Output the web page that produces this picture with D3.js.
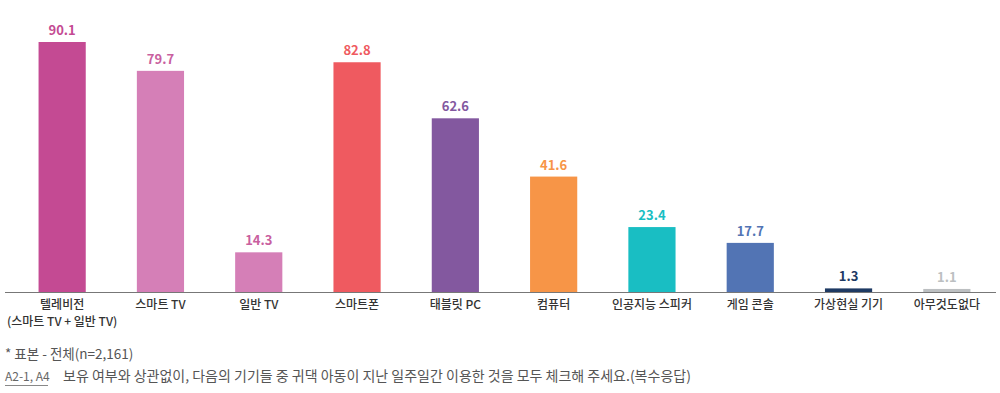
<!DOCTYPE html>
<html>
<head>
<meta charset="utf-8">
<script src="https://cdn.jsdelivr.net/npm/d3@7"></script>
<style>
  body { margin: 0; background: #fff; }
  text { font-family: "Noto Sans CJK KR", "Noto Sans", sans-serif; }
</style>
</head>
<body>
<div id="chart"></div>
<script>
// chart data
let categories = ["텔레비전\n(스마트 TV + 일반 TV)", "스마트 TV", "일반 TV", "스마트폰", "태블릿 PC",
  "컴퓨터", "인공지능 스피커", "게임 콘솔", "가상현실 기기", "아무것도없다"];
let values = [90.1, 79.7, 14.3, 82.8, 62.6, 41.6, 23.4, 17.7, 1.3, 1.1];
let barColors = ["#c44a93", "#d57fb7", "#d57fb7", "#ef5a60", "#83589f",
  "#f79547", "#19bec3", "#5274b4", "#1e3a63", "#bcbfc1"];
let labelColors = ["#c44a93", "#c9609f", "#c9609f", "#ef5a60", "#83589f",
  "#f79547", "#19bec3", "#5274b4", "#1e3a63", "#bcbfc1"];
let footNote = "* 표본 - 전체(n=2,161)";
let questionCode = "A2-1, A4";
let questionText = "보유 여부와 상관없이, 다음의 기기들 중 귀댁 아동이 지난 일주일간 이용한 것을 모두 체크해 주세요.(복수응답)";

let svgWidth = 1000, svgHeight = 393;
let baseY = 292;

let svg = d3.select("#chart").append("svg")
  .attr("width", svgWidth)
  .attr("height", svgHeight);

// scales
let x = d3.scaleBand()
  .domain(categories)
  .range([13, 996])
  .paddingInner(0.52)
  .paddingOuter(0.26);

let y = d3.scaleLinear()
  .domain([0, 90.1])
  .range([baseY, 42]);

// bars
svg.selectAll("rect.bar")
  .data(values)
  .enter()
  .append("rect")
  .attr("class", "bar")
  .attr("x", (d, i) => x(categories[i]))
  .attr("y", d => y(d))
  .attr("width", x.bandwidth())
  .attr("height", d => baseY - y(d))
  .attr("fill", (d, i) => barColors[i]);

// value labels
svg.selectAll("text.val")
  .data(values)
  .enter()
  .append("text")
  .attr("class", "val")
  .attr("x", (d, i) => x(categories[i]) + x.bandwidth() / 2)
  .attr("y", d => y(d) - 7)
  .attr("text-anchor", "middle")
  .style("font-size", "13px")
  .style("font-weight", "bold")
  .style("fill", (d, i) => labelColors[i])
  .text(d => d.toFixed(1));

// baseline
svg.append("line")
  .attr("x1", 5).attr("x2", 996)
  .attr("y1", baseY + 0.5).attr("y2", baseY + 0.5)
  .attr("stroke", "#777")
  .attr("stroke-width", 1);

// category labels
let catText = svg.selectAll("text.cat")
  .data(categories)
  .enter()
  .append("text")
  .attr("class", "cat")
  .attr("text-anchor", "middle")
  .style("font-size", "12px")
  .style("font-weight", "500")
  .style("fill", "#333");

catText.each(function (d) {
  let lines = d.split("\n");
  let cx = x(d) + x.bandwidth() / 2;
  d3.select(this).selectAll("tspan")
    .data(lines)
    .enter()
    .append("tspan")
    .attr("x", cx)
    .attr("y", (l, j) => 309 + j * 17)
    .text(l => l);
});

// footnotes
svg.append("text")
  .attr("x", 5).attr("y", 359)
  .style("font-size", "13.5px")
  .style("fill", "#555")
  .text(footNote);

svg.append("text")
  .attr("x", 5).attr("y", 381)
  .style("font-size", "12px")
  .style("fill", "#666")
  .text(questionCode);

svg.append("line")
  .attr("x1", 5).attr("x2", 48)
  .attr("y1", 385.5).attr("y2", 385.5)
  .attr("stroke", "#888");

svg.append("text")
  .attr("x", 63).attr("y", 381)
  .style("font-size", "14px")
  .style("fill", "#555")
  .text(questionText);
</script>
</body>
</html>
